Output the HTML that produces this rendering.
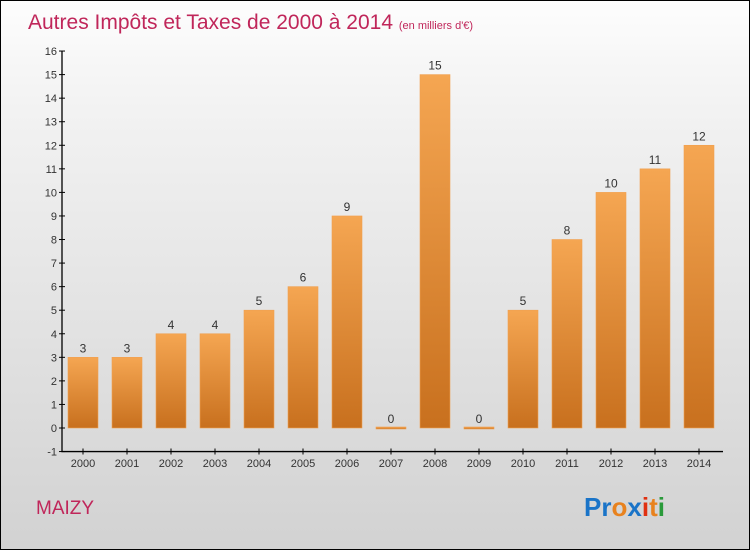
<!DOCTYPE html>
<html><head><meta charset="utf-8"><style>
body{margin:0}
#c{width:748px;height:548px;border:1px solid #000;background:linear-gradient(#fdfdfd,#f2f2f2 20%,#d2d2d2);position:relative;font-family:"Liberation Sans",sans-serif;overflow:hidden}
</style></head><body>
<div id="c">
<svg width="748" height="548" id="s">
<defs><linearGradient id="g" x1="0" y1="0" x2="0" y2="1"><stop offset="0" stop-color="#f5a652"/><stop offset="1" stop-color="#c8701e"/></linearGradient></defs>
<text x="27" y="28" font-size="21" fill="#c0265a">Autres Impôts et Taxes de 2000 à 2014 <tspan font-size="11">(en milliers d'€)</tspan></text>
<text x="35" y="513" font-size="19" fill="#c0265a">MAIZY</text>
<text x="583" y="515" font-size="26" font-weight="bold"><tspan fill="#1a74c8">Pr</tspan><tspan fill="#e8821e">o</tspan><tspan fill="#1a74c8">x</tspan><tspan fill="#e03010">i</tspan><tspan fill="#e8821e">t</tspan><tspan fill="#2a9a3a">i</tspan></text>
</svg></div>
<script>
const years=["2000","2001","2002","2003","2004","2005","2006","2007","2008","2009","2010","2011","2012","2013","2014"];
const values=[3,3,4,4,5,6,9,0,15,0,5,8,10,11,12];
const yTicks=[-1,0,1,2,3,4,5,6,7,8,9,10,11,12,13,14,15,16];
const s=document.getElementById('s'),NS="http://www.w3.org/2000/svg";
const y=v=>427-v*23.56, x=i=>82+i*44;
function mk(t,a){const e=document.createElementNS(NS,t);for(const k in a)e.setAttribute(k,a[k]);s.appendChild(e);return e;}
const ax=mk('path',{d:`M61 ${y(16)}V${y(-1)}H722`,stroke:'#000','stroke-width':1.3,fill:'none'});


yTicks.forEach(v=>{
 const l=mk('line',{x1:58,x2:64,y1:y(v),y2:y(v),stroke:'#000'});
 
 
 const t=mk('text',{x:56,y:y(v)+4,'text-anchor':'end','font-size':11,fill:'#333'});t.textContent=v;
 
 
});
years.forEach((yr,i)=>{
 const v=values[i],h=Math.max(y(0)-y(v),2);
 const r=mk('rect',{x:x(i)-15,y:y(0)-h+(v?0:1),width:30,height:h,fill:'url(#g)',stroke:'#f0a050','stroke-width':0.6});
 
 
 const t=mk('text',{x:x(i),y:y(v)-5,'text-anchor':'middle','font-size':12,fill:'#333'});t.textContent=v;
 
 
 const tk=mk('line',{x1:x(i),x2:x(i),y1:y(-1)-3,y2:y(-1)+3,stroke:'#000'});
 
 
 const xl=mk('text',{x:x(i),y:466,'text-anchor':'middle','font-size':11,fill:'#333'});xl.textContent=yr;
 
 
});
</script>
</body></html>
